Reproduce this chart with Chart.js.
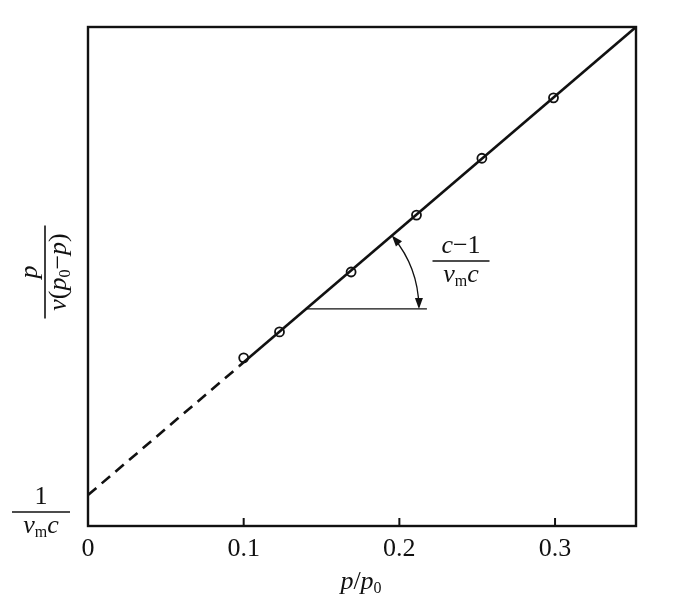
<!DOCTYPE html>
<html>
<head>
<meta charset="utf-8">
<script src="https://cdn.jsdelivr.net/npm/chart.js@4/dist/chart.umd.min.js"></script>
<style>
  html, body { margin: 0; padding: 0; background: #fff; }
  #wrap { width: 676px; height: 609px; position: relative; }
</style>
</head>
<body>
<div id="wrap"><canvas id="bet"></canvas></div>
<script>
// BET plot: p/[v(p0-p)] vs p/p0
var xTicks = [0, 0.1, 0.2, 0.3];
var pointX = [0.100, 0.123, 0.169, 0.211, 0.253, 0.299];
var pointY = [0.337, 0.389, 0.509, 0.623, 0.737, 0.858];
var dashX = [0, 0.097];
var dashY = [0.062, 0.320];
var solidX = [0.097, 0.352];
var solidY = [0.320, 1.0];
// slope triangle: corner on the line, horizontal leg end
var slopeX = [0.140, 0.2177];
var slopeY = [0.435, 0.435];

var SERIF = "'Liberation Serif', 'Times New Roman', serif";
var FS = 26, FSUB = 16;

function pairs(xs, ys) {
  return xs.map(function(x, i) { return { x: x, y: ys[i] }; });
}

function frac(ctx, x, y, num, den, w) {
  ctx.beginPath();
  ctx.moveTo(x - w / 2, y);
  ctx.lineTo(x + w / 2, y);
  ctx.lineWidth = 1.6;
  ctx.stroke();
  runs(ctx, x, y - 8, num);
  runs(ctx, x, y + 21, den);
}

// draw a row of text pieces [text, style, dy, size] centred on cx
function runs(ctx, cx, base, parts) {
  var total = 0;
  parts.forEach(function(p) {
    ctx.font = p[1] + ' ' + p[3] + 'px ' + SERIF;
    p.w = ctx.measureText(p[0]).width;
    total += p.w;
  });
  var x = cx - total / 2;
  ctx.textAlign = 'left';
  ctx.textBaseline = 'alphabetic';
  parts.forEach(function(p) {
    ctx.font = p[1] + ' ' + p[3] + 'px ' + SERIF;
    ctx.fillText(p[0], x, base + p[2]);
    x += p.w;
  });
}

function arrowHead(ctx, x, y, ang) {
  var L = 11, H = 4;
  ctx.save();
  ctx.translate(x, y);
  ctx.rotate(ang);
  ctx.beginPath();
  ctx.moveTo(0, 0);
  ctx.lineTo(-L, -H);
  ctx.lineTo(-L, H);
  ctx.closePath();
  ctx.fill();
  ctx.restore();
}

var NU_M_C = [['\u03bd', 'italic', 0, FS], ['m', 'normal', 4, FSUB], ['c', 'italic', 0, FS]];

var decorations = {
  id: 'decorations',
  afterDatasetsDraw: function(chart) {
    var ctx = chart.ctx, a = chart.chartArea;
    var xs = chart.scales.x, ys = chart.scales.y;
    ctx.save();
    ctx.strokeStyle = '#111';
    ctx.fillStyle = '#111';

    // frame
    ctx.lineWidth = 2.4;
    ctx.strokeRect(a.left, a.top, a.right - a.left, a.bottom - a.top);

    // inward ticks
    ctx.lineWidth = 2;
    xTicks.forEach(function(v) {
      if (v === 0) return;
      var px = xs.getPixelForValue(v);
      ctx.beginPath();
      ctx.moveTo(px, a.bottom);
      ctx.lineTo(px, a.bottom - 8);
      ctx.stroke();
    });

    // slope triangle: horizontal leg
    var cx = xs.getPixelForValue(slopeX[0]), cy = ys.getPixelForValue(slopeY[0]);
    var ex = xs.getPixelForValue(slopeX[1]);
    ctx.lineWidth = 1.3;
    ctx.beginPath();
    ctx.moveTo(cx, cy);
    ctx.lineTo(ex, cy);
    ctx.stroke();

    // angle arc between the leg and the line
    var sx = xs.getPixelForValue(solidX[1]) - xs.getPixelForValue(solidX[0]);
    var sy = ys.getPixelForValue(solidY[1]) - ys.getPixelForValue(solidY[0]);
    var lineAng = Math.atan2(sy, sx);
    var r = (ex - cx) - 8;
    ctx.beginPath();
    ctx.arc(cx, cy, r, lineAng + 0.02, -0.02);
    ctx.stroke();
    arrowHead(ctx, cx + r * Math.cos(lineAng), cy + r * Math.sin(lineAng), lineAng - Math.PI / 2);
    arrowHead(ctx, cx + r, cy, Math.PI / 2);

    // slope label
    frac(ctx, 461, 261, [['c', 'italic', 0, FS], ['\u22121', 'normal', 0, FS]], NU_M_C, 57);

    // intercept label
    frac(ctx, 41, 512, [['1', 'normal', 0, FS]], NU_M_C, 58);

    // y-axis title (rotated)
    ctx.save();
    ctx.translate(45, 272);
    ctx.rotate(-Math.PI / 2);
    frac(ctx, 0, 0, [['p', 'italic', 0, FS]],
      [['\u03bd', 'italic', 0, FS], ['(', 'normal', 0, FS], ['p', 'italic', 0, FS],
       ['0', 'normal', 4, FSUB], ['\u2212', 'normal', 0, FS], ['p', 'italic', 0, FS], [')', 'normal', 0, FS]], 93);
    ctx.restore();

    // x-axis title
    runs(ctx, 361, 589,
      [['p', 'italic', 0, FS], ['/', 'normal', 0, FS], ['p', 'italic', 0, FS], ['0', 'normal', 4, FSUB]]);

    ctx.restore();
  }
};

new Chart(document.getElementById('bet'), {
  type: 'scatter',
  data: {
    datasets: [
      {
        data: pairs(dashX, dashY), showLine: true, borderColor: '#111', borderWidth: 2.6,
        borderDash: [11, 7], pointRadius: 0
      },
      {
        data: pairs(solidX, solidY), showLine: true, borderColor: '#111', borderWidth: 2.6,
        pointRadius: 0
      },
      {
        data: pairs(pointX, pointY), showLine: false, pointRadius: 4.5,
        pointBackgroundColor: '#fff', pointBorderColor: '#111', pointBorderWidth: 1.8
      }
    ]
  },
  options: {
    responsive: true,
    maintainAspectRatio: false,
    animation: false,
    layout: { padding: { left: 88, right: 40, top: 27, bottom: 0 } },
    plugins: { legend: { display: false }, tooltip: { enabled: false } },
    scales: {
      x: {
        type: 'linear', min: 0, max: 0.352,
        grid: { display: false }, border: { display: false },
        afterBuildTicks: function(s) { s.ticks = xTicks.map(function(v) { return { value: v }; }); },
        afterFit: function(s) { s.height = 83; },
        ticks: {
          color: '#111', padding: 0, maxRotation: 0,
          font: { family: SERIF, size: FS },
          callback: function(v) { return v === 0 ? '0' : v.toFixed(1); }
        }
      },
      y: { min: 0, max: 1, display: false }
    }
  },
  plugins: [decorations]
});
</script>
</body>
</html>
